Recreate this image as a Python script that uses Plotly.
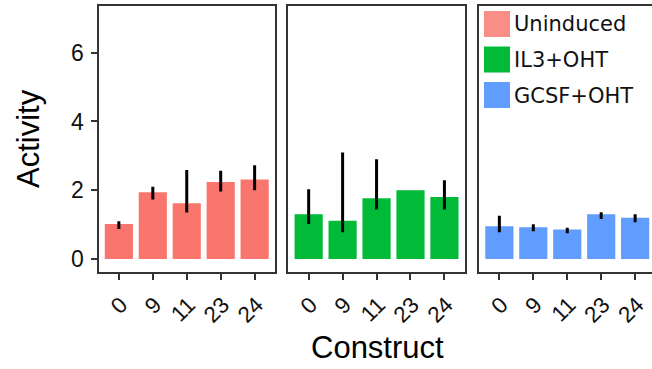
import plotly.graph_objects as go

# ---- data ----
constructs = ["0", "9", "11", "23", "24"]
groups = ["Uninduced", "IL3+OHT", "GCSF+OHT"]

uninduced = [1.02, 1.94, 1.62, 2.24, 2.31]
uninduced_hi = [1.10, 2.10, 2.59, 2.57, 2.73]
uninduced_lo = [0.87, 1.73, 1.35, 1.96, 2.00]

il3 = [1.30, 1.11, 1.77, 2.00, 1.80]
il3_hi = [2.03, 3.10, 2.90, 2.00, 2.29]
il3_lo = [1.02, 0.78, 1.44, 2.00, 1.44]

gcsf = [0.95, 0.92, 0.86, 1.30, 1.20]
gcsf_hi = [1.26, 1.01, 0.91, 1.36, 1.30]
gcsf_lo = [0.78, 0.81, 0.75, 1.16, 1.07]

y_ticks = [0, 2, 4, 6]

# ---- style ----
W, H = 652, 369
colors = ["#F8766D", "#00BA38", "#619CFF"]
key_colors = ["#F88E86", "#00BA38", "#619CFF"]
border = "#333333"
ytick_font = dict(family="Liberation Sans, Arial, sans-serif", size=23, color="#111111")
xtick_font = dict(family="Liberation Sans, Arial, sans-serif", size=22.5, color="#111111")
title_font = dict(family="Liberation Sans, Arial, sans-serif", size=31, color="#000000")
legend_font = dict(family="DejaVu Sans, sans-serif", size=21, color="#111111")

panels_px = [(98.5, 275.0), (288.3, 465.0), (479.0, 652.0)]
y_top_px, y_bot_px = 6.0, 271.7
ydom = [(H - y_bot_px) / H, (H - y_top_px) / H]

series = [
    (uninduced, uninduced_hi, uninduced_lo),
    (il3, il3_hi, il3_lo),
    (gcsf, gcsf_hi, gcsf_lo),
]

fig = go.Figure()
for i, (vals, hi, lo) in enumerate(series):
    ax = "" if i == 0 else str(i + 1)
    fig.add_trace(go.Bar(
        x=constructs, y=vals, name=groups[i],
        marker=dict(color=colors[i], line=dict(width=0)),
        width=0.83,
        error_y=dict(type="data", symmetric=False,
                     array=[h - v for h, v in zip(hi, vals)],
                     arrayminus=[v - l for v, l in zip(vals, lo)],
                     color="black", thickness=3, width=0),
        xaxis="x" + ax, yaxis="y" + ax, showlegend=False,
    ))

px_per_unit = (panels_px[0][1] - panels_px[0][0]) / 5.2
layout = dict(
    width=W, height=H, margin=dict(l=0, r=0, t=0, b=0),
    paper_bgcolor="white", plot_bgcolor="white", showlegend=False,
)
for i, (x0, x1) in enumerate(panels_px):
    ax = "" if i == 0 else str(i + 1)
    xmax = -0.6 + (x1 - x0) / px_per_unit
    layout["xaxis" + ax] = dict(
        domain=[x0 / W, x1 / W], anchor="y" + ax, type="category",
        categoryarray=constructs, range=[-0.6, xmax],
        showline=True, mirror=True, linecolor=border, linewidth=2,
        ticks="outside", ticklen=6, tickwidth=2, tickcolor=border,
        tickangle=-45, tickfont=xtick_font, ticklabelshift=2, ticklabelstandoff=3,
        showgrid=False, zeroline=False, fixedrange=True,
    )
    layout["yaxis" + ax] = dict(
        domain=ydom, anchor="x" + ax, range=[-0.37, 7.36],
        showline=True, mirror=(i < 2), linecolor=border, linewidth=2,
        ticks="outside" if i == 0 else "", ticklen=6, tickwidth=2, tickcolor=border,
        tickvals=y_ticks, showticklabels=(i == 0), tickfont=ytick_font,
        ticklabelstandoff=2,
        showgrid=False, zeroline=False, fixedrange=True,
    )
fig.update_layout(**layout)

# axis titles
fig.add_annotation(text="Activity", xref="paper", yref="paper",
                   x=28 / W, y=(H - 139) / H, textangle=-90, showarrow=False,
                   xanchor="center", yanchor="middle", font=title_font)
fig.add_annotation(text="Construct", xref="paper", yref="paper",
                   x=377 / W, y=(H - 347) / H, showarrow=False,
                   xanchor="center", yanchor="middle", font=title_font)

# legend drawn inside third panel
key_x0, key_x1 = 484, 510
for k, g in enumerate(groups):
    yt = 11 + k * 35.5
    fig.add_shape(type="rect", xref="paper", yref="paper",
                  x0=key_x0 / W, x1=key_x1 / W,
                  y0=(H - yt - 26) / H, y1=(H - yt) / H,
                  fillcolor=key_colors[k], line=dict(width=0))
    fig.add_annotation(text=g, xref="paper", yref="paper",
                       x=512 / W, y=(H - yt - 13.5) / H, showarrow=False,
                       xanchor="left", yanchor="middle", font=legend_font)

fig.write_html("out.html")
